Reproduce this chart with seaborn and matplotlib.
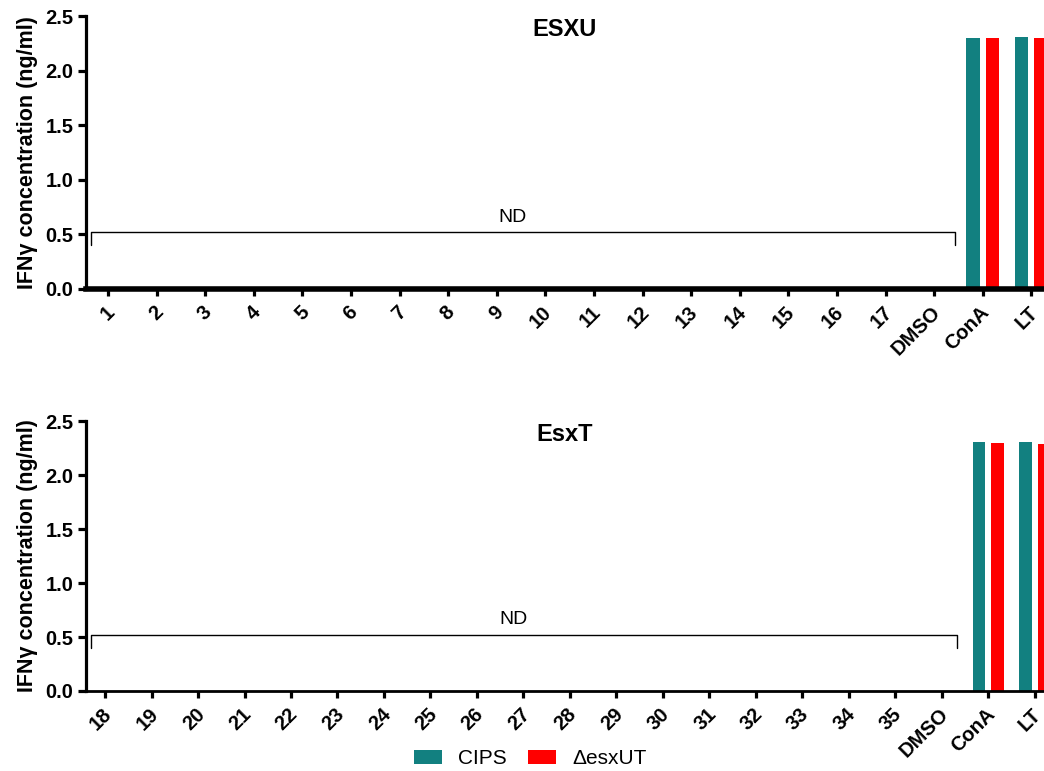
import matplotlib
matplotlib.use("Agg")
import matplotlib.pyplot as plt
import matplotlib.transforms as mtransforms
import seaborn as sns
import pandas as pd

sns.set_style("ticks", {"axes.edgecolor": "black", "xtick.color": "black",
                        "ytick.color": "black", "text.color": "black",
                        "axes.labelcolor": "black"})
plt.rcParams['font.family'] = ['Liberation Sans', 'DejaVu Sans']

# categories
cats_top = [str(i) for i in range(1, 18)] + ["DMSO", "ConA", "LT"]
cats_bot = [str(i) for i in range(18, 36)] + ["DMSO", "ConA", "LT"]
# IFNg (ng/ml); peptides not detected (ND) -> 0
cips_top = [0] * 18 + [2.30, 2.31]
esx_top = [0] * 18 + [2.30, 2.30]
cips_bot = [0] * 19 + [2.305, 2.305]
esx_bot = [0] * 19 + [2.30, 2.29]
groups = ["CIPS", "\u0394esxUT"]
colors = ["#128080", "#ff0000"]


def long_df(cats, a, b):
    return pd.DataFrame({
        "cat": cats * 2,
        "val": a + b,
        "grp": [groups[0]] * len(cats) + [groups[1]] * len(cats),
    })


fig = plt.figure(figsize=(10.44, 7.71), dpi=100)
ax1 = fig.add_axes([0.0824, 0.6252, 0.9176, 0.354])
ax2 = fig.add_axes([0.0824, 0.1038, 0.9176, 0.350])
shift = mtransforms.ScaledTranslation(-0.03, 0, fig.dpi_scale_trans)

# ax, title, data, order, xlim, bottom spine width, bracket end, ND x
panels = [
    (ax1, "ESXU", long_df(cats_top, cips_top, esx_top), cats_top, (-0.45, 19.26), 4.0, 17.42, 8.33),
    (ax2, "EsxT", long_df(cats_bot, cips_bot, esx_bot), cats_bot, (-0.41, 20.2), 2.0, 18.32, 8.78),
]
for ax, title, df, cats, xl, bw, xend, ndx in panels:
    sns.barplot(data=df, x="cat", y="val", hue="grp", order=cats,
                palette=colors, saturation=1, width=0.8, gap=0.32, ax=ax,
                legend=(ax is ax2), edgecolor="none")
    ax.set_xlim(*xl)
    ax.set_ylim(0, 2.5)
    ax.set_yticks([0, 0.5, 1.0, 1.5, 2.0, 2.5])
    ax.set_yticklabels(["0.0", "0.5", "1.0", "1.5", "2.0", "2.5"])
    ax.set_xlabel("")
    ax.set_ylabel("IFN\u03b3 concentration (ng/ml)", fontsize=15.5, fontweight="bold", labelpad=5)
    ax.set_title(title, fontsize=17, fontweight="bold", y=0.895)
    sns.despine(ax=ax)
    ax.spines["left"].set_linewidth(2.3)
    ax.spines["bottom"].set_linewidth(bw)
    ax.tick_params(axis="y", width=2.3, length=6, labelsize=14.5, pad=3)
    ax.tick_params(axis="x", width=2.3, length=5, labelsize=14.5, pad=5)
    for lab in ax.get_yticklabels() + ax.get_xticklabels():
        lab.set_fontweight("bold")
    for lab in ax.get_xticklabels():
        lab.set_rotation(45)
        lab.set_ha("right")
        lab.set_va("top")
        lab.set_rotation_mode("anchor")
        lab.set_transform(lab.get_transform() + shift)
    # ND bracket over non-detected peptides
    x0 = xl[0] + 0.1
    ax.plot([x0, x0, xend, xend], [0.40, 0.52, 0.52, 0.40], color="black", lw=1.0,
            clip_on=False)
    ax.text(ndx, 0.58, "ND", ha="center", va="bottom", fontsize=14)

handles, labels = ax2.get_legend_handles_labels()
ax2.get_legend().remove()
fig.legend(handles, labels, loc="center", bbox_to_anchor=(0.508, 0.016), ncol=2,
           frameon=False, fontsize=15, handlelength=1.35, handleheight=0.63,
           handletextpad=0.8, columnspacing=1.0)

fig.savefig("out.png", dpi=100)
